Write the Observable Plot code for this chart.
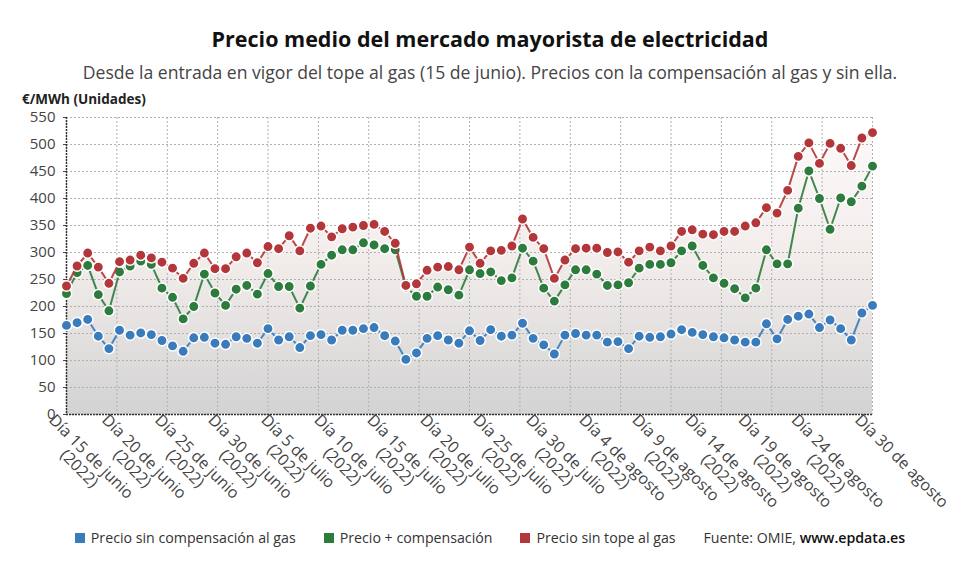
<!DOCTYPE html>
<html>
<head>
<meta charset="utf-8">
<script src="https://cdn.jsdelivr.net/npm/d3@7"></script>
<script src="https://cdn.jsdelivr.net/npm/@observablehq/plot@0.6"></script>
<style>
  body { margin: 0; background: #fff; font-family: "Open Sans", sans-serif; }
  #wrap { position: relative; width: 980px; height: 575px; overflow: hidden; }
  #title { position: absolute; top: 25px; left: 0; width: 980px; text-align: center; font-weight: 700; font-size: 21.5px; line-height: 28px; color: #111; }
  #subtitle { position: absolute; top: 60px; left: 0; width: 980px; text-align: center; font-size: 17.6px; line-height: 24px; color: #444; }
  #unit { position: absolute; top: 92px; left: 22px; font-weight: 700; font-size: 13.5px; line-height: 14px; color: #222; }
  #chart { position: absolute; top: 88px; left: 0; }
  #legend { position: absolute; top: 529px; left: 0; width: 980px; display: flex; justify-content: center; align-items: center; gap: 28px; font-size: 14.2px; line-height: 18px; color: #333; }
  .item { display: flex; align-items: center; gap: 6px; }
  .sw { width: 10px; height: 10px; display: inline-block; }
</style>
</head>
<body>
<div id="wrap">
  <div id="title">Precio medio del mercado mayorista de electricidad</div>
  <div id="subtitle">Desde la entrada en vigor del tope al gas (15 de junio). Precios con la compensación al gas y sin ella.</div>
  <div id="unit">€/MWh (Unidades)</div>
  <div id="chart"></div>
  <div id="legend"></div>
</div>
<script>
// Daily values, 15 June 2022 -> 30 August 2022 (77 days)
const sinCompensacion = [165,170,176,145,122,156,147,151,148,137,127,117,142,143,132,130,144,141,132,159,138,144,124,146,148,
  138,156,156,159,161,146,136,102,114,141,146,138,132,155,137,157,145,147,169,141,129,112,147,150,147,147,134,135,
  122,145,143,144,149,157,152,148,144,142,138,134,134,168,140,176,182,186,161,175,159,138,188,202];
const masCompensacion = [224,263,276,222,192,264,275,284,278,234,217,177,200,260,225,202,232,239,223,261,237,237,197,238,278,
  295,305,305,318,314,307,305,236,219,219,236,231,221,268,261,264,248,253,308,284,234,210,240,268,268,260,239,240,
  244,271,278,278,281,303,312,276,253,243,233,216,234,305,279,279,382,451,400,343,401,394,423,460];
const sinTope = [238,275,299,273,243,283,286,295,290,282,271,252,280,299,270,270,292,299,281,311,307,331,303,345,349,
  329,344,347,350,352,339,317,239,242,267,273,274,268,310,280,303,304,312,362,328,307,252,286,307,308,308,300,301,
  282,303,310,303,312,339,342,334,333,339,339,349,355,383,373,415,478,503,465,502,493,461,512,522];

const tickDays = [0,5,10,15,20,25,30,35,40,45,50,55,60,65,70,76];
const tickLabels = ["Día 15 de junio\n(2022)","Día 20 de junio\n(2022)","Día 25 de junio\n(2022)","Día 30 de junio\n(2022)",
  "Día 5 de julio\n(2022)","Día 10 de julio\n(2022)","Día 15 de julio\n(2022)","Día 20 de julio\n(2022)",
  "Día 25 de julio\n(2022)","Día 30 de julio\n(2022)","Día 4 de agosto\n(2022)","Día 9 de agosto\n(2022)",
  "Día 14 de agosto\n(2022)","Día 19 de agosto\n(2022)","Día 24 de agosto\n(2022)","Día 30 de agosto"];
const yTicks = [0,50,100,150,200,250,300,350,400,450,500,550];

const seriesNames = ["Precio sin compensación al gas","Precio + compensación","Precio sin tope al gas"];
const seriesColors = ["#3a7bbb","#2e7b3e","#b3363a"];

const n = sinTope.length;
const rows = d3.range(n).map(i => ({i, a: sinCompensacion[i], b: masCompensacion[i], c: sinTope[i]}));
const xTickRows = tickDays.map((d, k) => ({i: d, label: tickLabels[k]}));
const lastIdx = n - 1;
const gridXTicks = d3.range(17).map(k => k * lastIdx / 16);

const defs = () => {
  const s = d3.create("svg:defs");
  const g = s.append("linearGradient").attr("id", "bgGrad").attr("x1", 0).attr("x2", 0).attr("y1", 0).attr("y2", 1);
  g.append("stop").attr("offset", "0%").attr("stop-color", "#fdf9f9");
  g.append("stop").attr("offset", "45%").attr("stop-color", "#f2edeb");
  g.append("stop").attr("offset", "100%").attr("stop-color", "#d3d3d3");
  return s.node();
};

const keys = ["a","b","c"];
const seriesMarks = keys.flatMap((k, j) => [
  Plot.line(rows, {x: "i", y: k, stroke: seriesColors[j], strokeWidth: 2, strokeOpacity: 0.9}),
  Plot.dot(rows, {x: "i", y: k, r: 5.2, fill: seriesColors[j], stroke: "#fff", strokeWidth: 1.5})
]);

const chart = Plot.plot({
  width: 980,
  height: 421,
  marginTop: 29,
  marginBottom: 95,
  marginLeft: 66,
  marginRight: 108,
  x: {domain: [0, lastIdx], axis: null},
  y: {domain: [0, 550], axis: null},
  style: {fontFamily: '"Open Sans", sans-serif', background: "transparent", overflow: "visible"},
  marks: [
    defs,
    Plot.areaY(rows, {x: "i", y: "c", fill: "url(#bgGrad)"}),
    Plot.gridY({ticks: yTicks, stroke: "#b0b0b0", strokeOpacity: 1, strokeDasharray: "2,2"}),
    Plot.gridX({ticks: gridXTicks, stroke: "#b0b0b0", strokeOpacity: 1, strokeDasharray: "2,2"}),
    Plot.ruleX([0], {stroke: "#333", strokeWidth: 1.5, strokeDasharray: "2,1"}),
    Plot.ruleY([0], {stroke: "#333", strokeWidth: 1.5, strokeDasharray: "2,1"}),
    Plot.axisY({ticks: yTicks, tickSize: 3, tickPadding: 8, fontSize: 15, color: "#444", label: null}),
    ...seriesMarks,
    Plot.text(xTickRows, {x: "i", text: "label", frameAnchor: "bottom", rotate: 45, textAnchor: "start",
      lineAnchor: "top", lineHeight: 1.05, dx: -10, dy: -2, fontSize: 16, fill: "#444"})
  ]
});

document.getElementById("chart").appendChild(chart);

// center the "(2022)" line under the first line of each rotated label
chart.querySelectorAll("text").forEach(t => {
  const ts = t.querySelectorAll("tspan");
  if (ts.length === 2 && ts[1].textContent === "(2022)") {
    const w1 = ts[0].getComputedTextLength(), w2 = ts[1].getComputedTextLength();
    ts[1].setAttribute("x", (w1 - w2) / 2);
  }
});

// legend
const legend = d3.select("#legend");
seriesNames.forEach((name, j) => {
  const it = legend.append("div").attr("class", "item");
  it.append("span").attr("class", "sw").style("background", seriesColors[j]);
  it.append("span").text(name);
});
legend.append("span").html('Fuente: OMIE, <span style="color:#111;font-weight:600">www.epdata.es</span>');
</script>
</body>
</html>
